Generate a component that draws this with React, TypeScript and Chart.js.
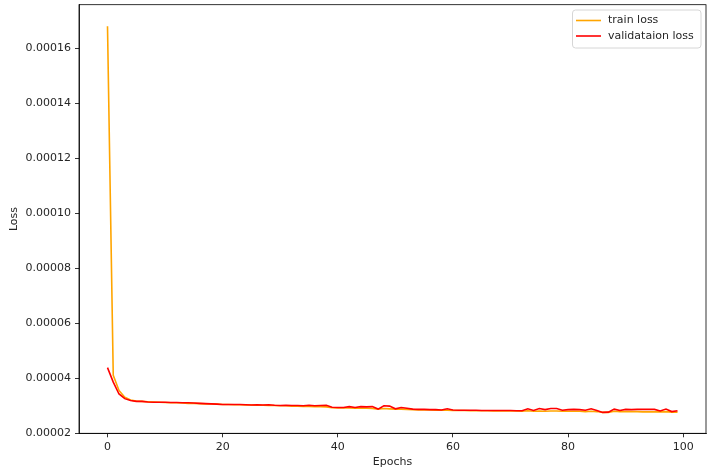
import React, { useEffect, useRef } from "react";
import { Chart, registerables } from "chart.js";

Chart.register(...registerables);

const epochs: number[] = Array.from({ length: 100 }, (_, i) => i);

const trainLoss: number[] = [
  0.000168, 0.000041, 0.0000355, 0.000033, 0.000032, 0.0000316, 0.0000315, 0.0000314, 0.0000313, 0.0000312,
  0.0000311, 0.000031, 0.000031, 0.0000309, 0.0000308, 0.0000308, 0.0000307, 0.0000306, 0.0000306, 0.0000305,
  0.0000304, 0.0000304, 0.0000303, 0.0000303, 0.0000302, 0.0000302, 0.0000301, 0.0000301, 0.00003, 0.00003,
  0.0000299, 0.0000299, 0.0000298, 0.0000298, 0.0000297, 0.0000297, 0.0000296, 0.0000296, 0.0000295, 0.0000292,
  0.0000291, 0.0000291, 0.0000291, 0.000029, 0.000029, 0.000029, 0.0000289, 0.0000287, 0.0000289, 0.0000288,
  0.0000287, 0.0000287, 0.0000286, 0.0000285, 0.0000284, 0.0000284, 0.0000284, 0.0000283, 0.0000283, 0.0000283,
  0.0000282, 0.0000282, 0.0000282, 0.0000281, 0.0000281, 0.0000281, 0.0000281, 0.000028, 0.000028, 0.000028,
  0.000028, 0.000028, 0.0000279, 0.0000281, 0.0000279, 0.000028, 0.0000279, 0.000028, 0.000028, 0.0000279,
  0.0000279, 0.0000279, 0.0000279, 0.0000278, 0.0000279, 0.0000278, 0.0000275, 0.0000275, 0.0000279, 0.0000278,
  0.0000278, 0.0000278, 0.0000278, 0.0000277, 0.0000277, 0.0000277, 0.0000277, 0.0000278, 0.0000276, 0.0000276,
];

const valLoss: number[] = [
  0.0000438, 0.0000385, 0.0000342, 0.0000325, 0.0000318, 0.0000315, 0.0000315, 0.0000313, 0.0000312, 0.0000312,
  0.0000312, 0.0000311, 0.0000311, 0.000031, 0.000031, 0.0000309, 0.0000308, 0.0000307, 0.0000306, 0.0000305,
  0.0000304, 0.0000304, 0.0000304, 0.0000304, 0.0000303, 0.0000302, 0.0000303, 0.0000302, 0.0000303, 0.0000301,
  0.00003, 0.0000301, 0.00003, 0.00003, 0.0000299, 0.0000301, 0.0000299, 0.00003, 0.0000301, 0.0000294,
  0.0000293, 0.0000293, 0.0000296, 0.0000293, 0.0000296, 0.0000295, 0.0000296, 0.0000287, 0.0000299, 0.0000298,
  0.0000288, 0.0000293, 0.000029, 0.0000287, 0.0000286, 0.0000286, 0.0000285, 0.0000285, 0.0000284, 0.0000288,
  0.0000284, 0.0000283, 0.0000283, 0.0000283, 0.0000283, 0.0000282, 0.0000282, 0.0000282, 0.0000282, 0.0000282,
  0.0000282, 0.0000281, 0.0000281, 0.0000288, 0.0000282, 0.0000289, 0.0000285, 0.0000289, 0.0000289, 0.0000283,
  0.0000285, 0.0000286, 0.0000285, 0.0000283, 0.0000288, 0.0000282, 0.0000275, 0.0000276, 0.0000287, 0.0000282,
  0.0000286, 0.0000285, 0.0000286, 0.0000286, 0.0000286, 0.0000286, 0.000028, 0.0000287, 0.0000278, 0.0000281,
];

const xTicks: number[] = [0, 20, 40, 60, 80, 100];
const yTicks: number[] = [0.00002, 0.00004, 0.00006, 0.00008, 0.0001, 0.00012, 0.00014, 0.00016];

const FONT = "DejaVu Sans";
const FONT_SIZE = 11;
const TEXT_COLOR = "#262626";

const framePlugin = {
  id: "frameAndLegend",
  afterDraw(chart: any) {
    const { ctx, chartArea } = chart;
    const { left, right, top, bottom } = chartArea;
    ctx.save();
    ctx.strokeStyle = "#000";
    ctx.lineWidth = 0.8;
    ctx.strokeRect(left, top, right - left, bottom - top);

    ctx.fillStyle = TEXT_COLOR;
    ctx.font = `${FONT_SIZE}px "${FONT}"`;
    ctx.textAlign = "center";
    ctx.textBaseline = "middle";
    ctx.fillText("Epochs", (left + right) / 2, 462);
    ctx.save();
    ctx.translate(14, (top + bottom) / 2);
    ctx.rotate(-Math.PI / 2);
    ctx.fillText("Loss", 0, 0);
    ctx.restore();

    const bx = 572.5, by = 10, bw = 128.5, bh = 38;
    ctx.beginPath();
    (ctx as any).roundRect(bx, by, bw, bh, 3);
    ctx.fillStyle = "rgba(255,255,255,0.8)";
    ctx.fill();
    ctx.strokeStyle = "#d6d6d6";
    ctx.lineWidth = 1;
    ctx.stroke();

    const ds = chart.data.datasets;
    const items = [ds[1], ds[0]];
    const rowsY = [20.5, 36];
    ctx.textAlign = "left";
    ctx.textBaseline = "middle";
    items.forEach((d: any, i: number) => {
      ctx.strokeStyle = d.borderColor;
      ctx.lineWidth = 1.6;
      ctx.beginPath();
      ctx.moveTo(576, rowsY[i]);
      ctx.lineTo(601, rowsY[i]);
      ctx.stroke();
      ctx.fillStyle = TEXT_COLOR;
      ctx.fillText(d.label, 608, rowsY[i]);
    });
    ctx.restore();
  },
};

export default function App() {
  const canvasRef = useRef<HTMLCanvasElement | null>(null);

  useEffect(() => {
    if (!canvasRef.current) return;
    const chart = new Chart(canvasRef.current, {
      type: "line",
      data: {
        datasets: [
          {
            label: "validataion loss",
            data: epochs.map((e, i) => ({ x: e, y: valLoss[i] })),
            borderColor: "#ff0000",
            borderWidth: 1.6,
            pointRadius: 0,
            tension: 0,
            fill: false,
            order: 0,
          },
          {
            label: "train loss",
            data: epochs.map((e, i) => ({ x: e, y: trainLoss[i] })),
            borderColor: "#ffa500",
            borderWidth: 1.6,
            pointRadius: 0,
            tension: 0,
            fill: false,
            order: 1,
          },
        ],
      },
      options: {
        animation: false,
        responsive: true,
        maintainAspectRatio: false,
        layout: { padding: { left: 0, top: 4.7, right: 12, bottom: 0 } },
        plugins: {
          legend: { display: false },
          tooltip: { enabled: false },
        },
        scales: {
          x: {
            type: "linear",
            min: -4.95,
            max: 103.95,
            afterBuildTicks: (scale: any) => {
              scale.ticks = xTicks.map((v) => ({ value: v }));
            },
            afterFit: (scale: any) => {
              scale.height = 41.7;
              scale.paddingLeft = 0;
              scale.paddingRight = 0;
            },
            grid: { display: true, drawOnChartArea: false, drawTicks: true, tickLength: 4, color: "#000", lineWidth: 0.8 },
            border: { display: true, color: "#000", width: 0.8 },
            ticks: {
              color: TEXT_COLOR,
              font: { family: FONT, size: FONT_SIZE },
              padding: 3,
              maxRotation: 0,
              autoSkip: false,
              callback: (v: any) => String(v),
            },
          },
          y: {
            type: "linear",
            min: 0.0000199,
            max: 0.0001758,
            afterBuildTicks: (scale: any) => {
              scale.ticks = yTicks.map((v) => ({ value: v }));
            },
            afterFit: (scale: any) => {
              scale.width = 79;
              scale.paddingTop = 0;
              scale.paddingBottom = 0;
            },
            grid: { display: true, drawOnChartArea: false, drawTicks: true, tickLength: 4, color: "#000", lineWidth: 0.8 },
            border: { display: true, color: "#000", width: 0.8 },
            ticks: {
              color: TEXT_COLOR,
              font: { family: FONT, size: FONT_SIZE },
              padding: 4,
              autoSkip: false,
              callback: (v: any) => Number(v).toFixed(5),
            },
          },
        },
      },
      plugins: [framePlugin],
    });
    return () => chart.destroy();
  }, []);

  return (
    <div style={{ position: "absolute", left: 0, top: 0, width: 718, height: 475, background: "#fff" }}>
      <canvas ref={canvasRef} />
    </div>
  );
}
